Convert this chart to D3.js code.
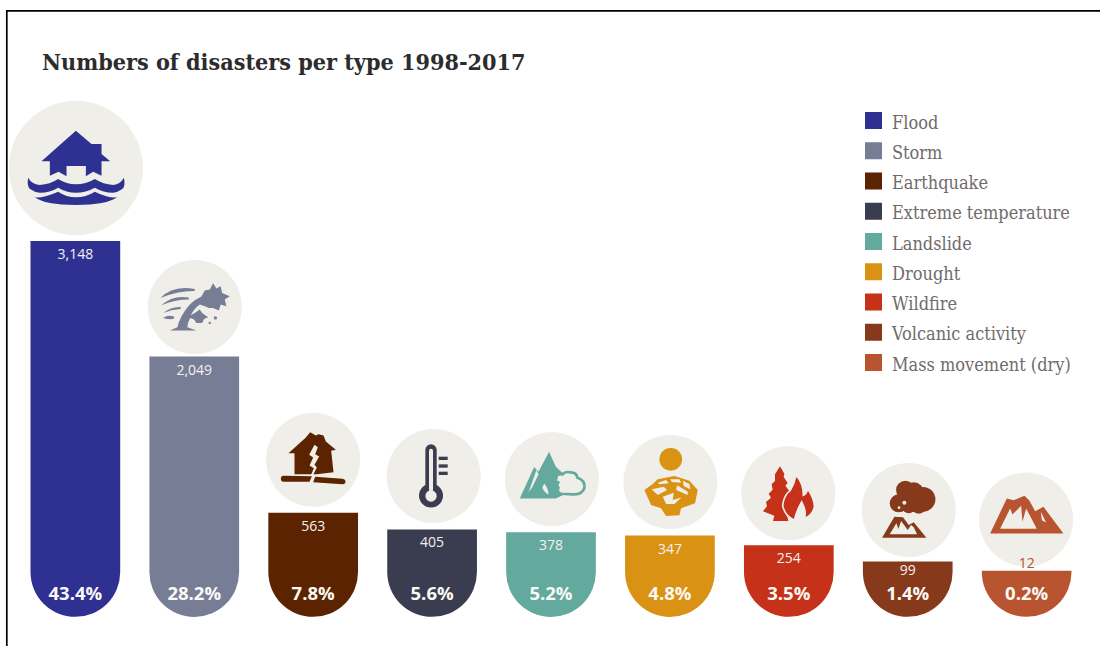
<!DOCTYPE html>
<html>
<head>
<meta charset="utf-8">
<script src="https://cdn.jsdelivr.net/npm/d3@7/dist/d3.min.js"></script>
<style>
html,body{margin:0;padding:0;background:#fff;}
svg{display:block;}
text{font-kerning:normal;}
</style>
</head>
<body>
<svg id="chart" width="1100" height="646"></svg>
<script>
// Disaster counts by type, 1998-2017
const categories = ["Flood","Storm","Earthquake","Extreme temperature","Landslide","Drought","Wildfire","Volcanic activity","Mass movement (dry)"];
const counts = [3148,2049,563,405,378,347,254,99,12];
const shares = ["43.4%","28.2%","7.8%","5.6%","5.2%","4.8%","3.5%","1.4%","0.2%"];
const colours = ["#2e3192","#787d96","#5c2300","#3a3d50","#63a99e","#d99213","#c53219","#873a1b","#b85430"];
const chartTitle = "Numbers of disasters per type 1998-2017";

const svg = d3.select("#chart");
const plate = "#f0eee8";
const W = 1100, H = 646;
const serif = "'DejaVu Serif Condensed','DejaVu Serif',serif";

// Frame along the top and left edges
svg.append("path").attr("d", `M${W},10.8H6.8V${H}`).attr("fill","none").attr("stroke","#000").attr("stroke-width",1.7);

svg.append("text").text(chartTitle)
  .attr("x",42).attr("y",70)
  .attr("font-family",serif).attr("font-weight",700).attr("font-size",23.15)
  .attr("fill","#2c2c2c");

const x = d3.scaleBand().domain(categories).range([30.5,1071.5]).paddingInner(0.2456).paddingOuter(0);
const y = d3.scaleLinear().domain([0,d3.max(counts)]).range([572,241]);
const r = x.bandwidth()/2;

// Each bar is a square-topped column closed by a half circle below the zero line
function barPath(name,value){
  const p = d3.path(), l = x(name), t = y(value), b = y(0);
  p.moveTo(l,t);
  p.lineTo(l+2*r,t);
  p.lineTo(l+2*r,b);
  p.arc(l+r,b,r,0,Math.PI,false);
  p.closePath();
  return p.toString();
}

const data = categories.map((name,i)=>({name,value:counts[i],share:shares[i],colour:colours[i]}));

// Pictograms, outlined on a 3x grid and scaled down around their own centre
const icons = {
  "Flood": {radius:67, o:[228,504], dx:0.5, dy:-1, draw(g,c){
    g.append("path").attr("fill",c).attr("d","M228,392L275,432H305V462L331,484H305V527L280,515L258,529V498H200V529L176,515L150,527V484H125Z");
    g.append("path").attr("fill",c).attr("d","M85,533Q95,552 120,555Q150,553 175,537Q200,553 228,553Q258,553 285,537Q310,553 340,555Q362,552 372,533Q378,560 366,568Q352,578 340,578Q310,578 285,563Q258,578 228,578Q200,578 175,563Q150,578 120,578Q105,578 92,568Q80,560 85,533Z");
    g.append("path").attr("fill",c).attr("d","M105,592Q130,595 175,575Q200,592 228,592Q258,592 285,575Q325,595 352,592Q320,615 228,615Q135,615 105,592Z");
  }},
  "Storm": {radius:47, o:[150,147], dx:0.5, dy:2.4, draw(g,c){
    g.append("path").attr("fill",c).attr("d","M75,218L98,208Q105,175 135,140Q150,125 170,116L180,98L195,95L205,76L215,92L228,85L232,105L255,115L240,125L245,145L228,140L222,158L205,150L192,150Q172,142 165,140Q148,152 138,172L150,165L165,155L172,165L190,178L178,183L172,195L155,195L148,185L136,180Q128,195 128,208L155,218Z");
    g.append("path").attr("fill",c).attr("d","M47,120Q85,80 150,93L150,99Q100,98 47,120Z");
    g.append("path").attr("fill",c).attr("d","M50,142Q85,110 132,119L132,125Q90,125 50,142Z");
    g.append("path").attr("fill",c).attr("d","M55,165Q80,145 108,147L108,153Q80,155 55,165Z");
    g.append("path").attr("fill",c).attr("d","M55,180Q70,170 88,176L88,182Q75,186 55,180Z");
    g.selectAll("circle").data([[212,180,5],[195,195,3.5]]).join("circle")
      .attr("cx",d=>d[0]).attr("cy",d=>d[1]).attr("r",d=>d[2]).attr("fill",c);
  }},
  "Earthquake": {radius:47, o:[144,135], dx:0, dy:-1, draw(g,c){
    g.append("path").attr("fill",c).attr("d","M70,115L122,68L135,52L152,62L160,58L175,62L182,80L212,105L198,108L205,172L155,178L88,178L88,115Z");
    g.append("path").attr("fill",plate).attr("d","M148,90L158,97L150,118L162,125L148,150L155,158L143,182L137,182L146,160L133,152L144,128L132,120Z");
    g.append("path").attr("fill",c).attr("d","M47,192Q47,183 56,183L140,184L133,201L56,201Q47,201 47,192Z");
    g.append("path").attr("fill",c).attr("d","M150,186L232,192Q241,194 241,201Q241,209 232,208L144,202Z");
  }},
  "Extreme temperature": {radius:47, o:[552,168], dx:1.6, dy:-1.4, draw(g,c){
    g.append("path").attr("fill",c).attr("d","M527,90A17,17 0 0 1 561,90V195A36,36 0 1 1 527,195Z");
    g.append("path").attr("fill",plate).attr("d","M538,92A6,6 0 0 1 550,92V212H538Z");
    g.append("circle").attr("cx",544).attr("cy",228).attr("r",17).attr("fill",plate);
    g.selectAll("rect").data([110,133,155]).join("rect")
      .attr("x",567).attr("y",d=>d).attr("width",27).attr("height",10).attr("fill",c);
  }},
  "Landslide": {radius:47, o:[138,132], dx:0.8, dy:-1.2, draw(g,c){
    g.append("path").attr("fill",c).attr("d","M42,190L85,96L98,110L130,50L150,95L175,118L175,178L150,190Z");
    g.append("path").attr("fill",plate).attr("d","M92,105L98,118L80,155L68,172Z");
    g.append("path").attr("fill",plate).attr("d","M115,145Q128,160 128,178Q115,172 110,158Z");
    g.append("path").attr("fill",plate).attr("stroke",c).attr("stroke-width",8).attr("stroke-linejoin","round")
      .attr("d","M152,130Q150,115 170,118Q178,108 195,112Q212,112 215,128Q238,135 236,158Q230,180 200,178L165,176Q152,172 158,158Q150,150 158,142Q145,138 152,130Z");
  }},
  "Drought": {radius:47, o:[138,126], dx:0.5, dy:-1.5, draw(g,c){
    g.append("circle").attr("cx",139).attr("cy",58).attr("r",34).attr("fill",c);
    g.append("path").attr("fill",c).attr("d","M60,150L85,132L100,118L150,108L195,122L220,150L212,190L170,205L165,226L125,228L110,205L80,195Z");
    g.append("path").attr("fill",plate).attr("d","M100,128L125,120L133,130L105,133Z M138,118L165,118L170,128L142,126Z M175,122L195,132L198,148L178,138Z M82,148L118,140L128,150L100,165Z M158,136L190,155L190,165L155,150Z M115,170L148,158L145,180L172,172L150,192L125,192Z");
  }},
  "Wildfire": {radius:47, o:[492,159], dx:-0.5, dy:0, draw(g,c){
    g.append("path").attr("fill",c).attr("d","M467,78L480,100L478,110L490,128L483,136L495,152Q482,170 480,195Q480,218 490,232L492,242H446L450,226L416,213L428,198L425,185L440,172L433,160L445,148L442,132L452,122L452,102Z");
    g.append("path").attr("fill",c).attr("stroke",plate).attr("stroke-width",5)
      .attr("d","M515,105Q538,130 537,165Q548,160 550,145Q572,180 570,200Q565,225 540,235Q548,215 532,185Q515,215 510,240Q480,225 475,195Q478,165 498,150Q510,130 515,105Z");
  }},
  "Volcanic activity": {radius:47, o:[135,135], dx:1, dy:0.4, draw(g,c){
    g.selectAll("circle.puff").data([[125,75,28],[178,103,37],[105,115,27],[145,108,32],[150,82,30],[135,125,20],[165,122,24]]).join("circle").attr("class","puff")
      .attr("cx",d=>d[0]).attr("cy",d=>d[1]).attr("r",d=>d[2]).attr("fill",c);
    g.selectAll("circle.hole").data([[122,113,6],[106,128,4]]).join("circle").attr("class","hole")
      .attr("cx",d=>d[0]).attr("cy",d=>d[1]).attr("r",d=>d[2]).attr("fill",plate);
    g.append("path").attr("fill",c).attr("d","M55,218L92,155L118,157L135,180L150,172L188,218Z");
    g.append("path").attr("fill",plate).attr("d","M78,208L98,175L104,192L112,168L125,185L132,195L142,180L150,187L160,208Z");
  }},
  "Mass movement (dry)": {radius:47, o:[483,163], dx:-0.5, dy:0.8, draw(g,c){
    g.append("path").attr("fill",c).attr("d","M375,205L425,100L445,105L478,92L492,105L510,138L535,125L595,205Z");
    g.append("path").attr("fill",plate).attr("d","M405,191L435,130L442,148L468,122L472,170L483,130L515,191Z");
    g.append("path").attr("fill",plate).attr("d","M527,140L543,172L530,165Z");
  }}
};

// Each pictogram sits on a pale disc just above its bar
const plates = svg.append("g").selectAll("g").data(data).join("g")
  .attr("transform",d=>{
    const ic = icons[d.name];
    return `translate(${x(d.name)+r+ic.dx},${y(d.value)-5-ic.radius+ic.dy})`;
  });
plates.append("circle").attr("r",d=>icons[d.name].radius).attr("fill",plate);
plates.each(function(d){
  const ic = icons[d.name];
  const g = d3.select(this).append("g")
    .attr("transform",`scale(${1/3}) translate(${-ic.o[0]},${-ic.o[1]})`);
  ic.draw(g,d.colour);
});

const bars = svg.append("g").selectAll("g").data(data).join("g");
bars.append("path").attr("d",d=>barPath(d.name,d.value)).attr("fill",d=>d.colour);

// Counts sit inside the bar, except where the bar is too short to hold them
const labelFont = "'Open Sans', Roboto, sans-serif";
bars.append("text")
  .text(d=>d3.format(",")(d.value))
  .attr("x",d=>x(d.name)+r)
  .attr("y",d=> d.value<50 ? y(d.value)-3 : y(d.value)+(d.value<150 ? 13.8 : 18))
  .attr("text-anchor","middle")
  .attr("font-family",labelFont).attr("font-size",14)
  .attr("fill",d=> d.value<50 ? d.colour : "#f4f1ee");

bars.append("text")
  .text(d=>d.share)
  .attr("x",d=>x(d.name)+r)
  .attr("y",599.5)
  .attr("text-anchor","middle")
  .attr("font-family",labelFont).attr("font-weight",700).attr("font-size",18.5)
  .attr("fill","#fbf9f6");

// Legend
const legendY = d3.scalePoint().domain(categories).range([120.5,362.5]);
const legend = svg.append("g").selectAll("g").data(data).join("g")
  .attr("transform",d=>`translate(865,${legendY(d.name)})`);
legend.append("rect").attr("y",-8.5).attr("width",17).attr("height",17).attr("fill",d=>d.colour);
legend.append("text").text(d=>d.name)
  .attr("x",27).attr("y",8)
  .attr("font-family",serif).attr("font-size",18)
  .attr("fill","#6f6b6b");
</script>
</body>
</html>
